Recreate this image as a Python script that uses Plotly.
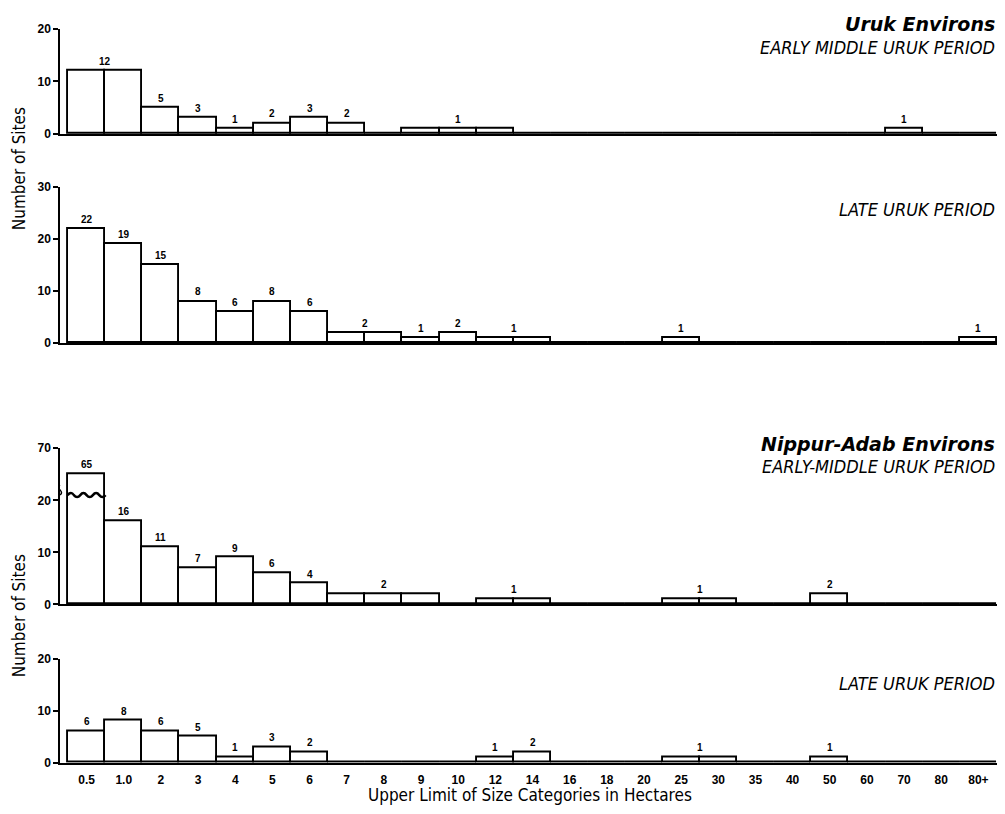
import plotly.graph_objects as go

# ---------------- data ----------------
categories = ["0.5", "1.0", "2", "3", "4", "5", "6", "7", "8", "9", "10", "12", "14",
              "16", "18", "20", "25", "30", "35", "40", "50", "60", "70", "80", "80+"]

uruk_early_middle = [12, 12, 5, 3, 1, 2, 3, 2, 0, 1, 1, 1, 0, 0, 0, 0, 0, 0, 0, 0, 0, 0, 1, 0, 0]
uruk_late = [22, 19, 15, 8, 6, 8, 6, 2, 2, 1, 2, 1, 1, 0, 0, 0, 1, 0, 0, 0, 0, 0, 0, 0, 1]
nippur_early_middle = [65, 16, 11, 7, 9, 6, 4, 2, 2, 2, 0, 1, 1, 0, 0, 0, 1, 1, 0, 0, 2, 0, 0, 0, 0]
nippur_late = [6, 8, 6, 5, 1, 3, 2, 0, 0, 0, 0, 1, 2, 0, 0, 0, 1, 1, 0, 0, 1, 0, 0, 0, 0]

panel_titles = ["Uruk Environs", None, "Nippur-Adab Environs", None]
panel_subtitles = ["EARLY MIDDLE URUK PERIOD", "LATE URUK PERIOD",
                   "EARLY-MIDDLE URUK PERIOD", "LATE URUK PERIOD"]
y_ticks = [[0, 10, 20], [0, 10, 20, 30], [0, 10, 20, 70], [0, 10, 20]]

# broken axis in panel 3: values from 20 up to 60 are cut out
BREAK_FROM = 20
BREAK_GAP = 40


def disp(v, broken):
    if broken and v > BREAK_FROM:
        return v - BREAK_GAP
    return v


# ---------------- layout geometry (page pixels) ----------------
PAGE_W, PAGE_H = 1005, 814
BODY_MARGIN = 8                      # browser default body margin
W, H = PAGE_W - 2 * BODY_MARGIN, PAGE_H - 2 * BODY_MARGIN
AX_LEFT, AX_RIGHT = 60, PAGE_W - BODY_MARGIN
BAR_PX = (AX_RIGHT - 68) / len(categories)
X_RANGE = [-0.5 - 8 / BAR_PX, len(categories) - 0.5]
# (top pixel, bottom pixel, top display value, title y, subtitle y)
panels_px = [(22, 129, 20, 17, 41), (183, 342, 30, None, 206),
             (449, 608, 30, 445, 468), (663, 769, 20, None, 688)]

series = [uruk_early_middle, uruk_late, nippur_early_middle, nippur_late]

FONT_TICK = "Liberation Sans, Arial, sans-serif"
FONT_COND = "Liberation Sans Narrow, DejaVu Sans Condensed, Arial Narrow, sans-serif"


def px(p):
    return min(1.0, max(0.0, (p - BODY_MARGIN) / W))


def py(p):
    return min(1.0, max(0.0, 1 - (p - BODY_MARGIN) / H))


fig = go.Figure()
annotations = []
shapes = []
xs = list(range(len(categories)))

for k, (vals, (ptop, pbot, ytop, title_y, sub_y)) in enumerate(zip(series, panels_px)):
    n = k + 1
    xa = "x" if n == 1 else f"x{n}"
    ya = "y" if n == 1 else f"y{n}"
    broken = (k == 2)
    yd = [disp(v, broken) for v in vals]
    fig.add_trace(go.Bar(
        x=xs, y=yd, xaxis=xa, yaxis=ya, width=1.0,
        marker=dict(color="white", line=dict(color="black", width=1.9)),
        showlegend=False, hoverinfo="skip",
    ))
    # labels: one per run of equal, non-zero adjacent bars
    i = 0
    while i < len(vals):
        if vals[i] == 0:
            i += 1
            continue
        j = i
        while j + 1 < len(vals) and vals[j + 1] == vals[i]:
            j += 1
        annotations.append(dict(
            x=(i + j) / 2, y=disp(vals[i], broken), xref=xa, yref=ya,
            text=str(vals[i]), showarrow=False, yanchor="bottom", yshift=2,
            font=dict(family=FONT_TICK, size=10, color="black", weight="bold"),
        ))
        i = j + 1

    tickvals = [disp(t, broken) for t in y_ticks[k]]
    xkey = "xaxis" if n == 1 else f"xaxis{n}"
    ykey = "yaxis" if n == 1 else f"yaxis{n}"
    fig.update_layout(**{
        xkey: dict(
            domain=[px(AX_LEFT), px(AX_RIGHT)], anchor=ya, range=X_RANGE,
            showgrid=False, zeroline=False, showline=True, linecolor="black",
            linewidth=2, ticks="",
            tickmode="array", tickvals=xs,
            ticktext=categories if k == 3 else [""] * len(xs),
            showticklabels=(k == 3), ticklabelstandoff=5,
            tickfont=dict(family=FONT_TICK, size=12, color="black", weight="bold"),
            fixedrange=True,
        ),
        ykey: dict(
            domain=[py(pbot), py(ptop)], anchor=xa, range=[0, ytop],
            showgrid=False, zeroline=False, showline=True, linecolor="black",
            linewidth=1.5, ticks="outside", ticklen=5, tickwidth=1.5,
            tickcolor="black", tickmode="array", tickvals=tickvals,
            ticktext=[str(t) for t in y_ticks[k]],
            tickfont=dict(family=FONT_TICK, size=12, color="black", weight="bold"),
            fixedrange=True,
        ),
    })

    if panel_titles[k]:
        annotations.append(dict(
            x=px(AX_RIGHT), y=py(title_y), xref="paper", yref="paper",
            text=f"<b><i>{panel_titles[k]}</i></b>", showarrow=False,
            xanchor="right", yanchor="middle",
            font=dict(family="DejaVu Sans, Liberation Sans, sans-serif", size=19, color="black"),
        ))
    annotations.append(dict(
        x=px(AX_RIGHT), y=py(sub_y), xref="paper", yref="paper",
        text=f"<i>{panel_subtitles[k]}</i>", showarrow=False,
        xanchor="right", yanchor="middle",
        font=dict(family=FONT_COND, size=18, color="black"),
    ))

# wavy break across the broken bar (panel 3) and break mark on its axis
broken_idx = max(range(len(nippur_early_middle)), key=lambda i: nippur_early_middle[i])
wave = "M-19,0 Q-15.5,4 -12.7,0 Q-9.5,-4 -6.3,0 Q-3.2,4 0,0 Q3.2,-4 6.3,0 Q9.5,4 12.7,0 Q15.8,-4 19,0"
shapes.append(dict(
    type="path", xref="x3", yref="y3", xsizemode="pixel", ysizemode="pixel",
    xanchor=broken_idx, yanchor=BREAK_FROM + 1, path=wave,
    line=dict(color="black", width=2.5),
))
shapes.append(dict(
    type="path", xref="x3", yref="y3", xsizemode="pixel", ysizemode="pixel",
    xanchor=X_RANGE[0], yanchor=BREAK_FROM + 2,
    path="M0,-5 Q3,-3 0,0 Q-3,3 0,5",
    line=dict(color="black", width=1.5),
))

# axis titles
for yc in (165, 620):
    annotations.append(dict(
        x=px(19), y=py(yc), xref="paper", yref="paper", text="Number of Sites",
        textangle=-90, showarrow=False, xanchor="center", yanchor="middle",
        font=dict(family=FONT_COND, size=17, color="black"),
    ))
annotations.append(dict(
    x=px(530), y=py(802), xref="paper", yref="paper",
    text="Upper Limit of Size Categories in Hectares", showarrow=False,
    xanchor="center", yanchor="middle",
    font=dict(family=FONT_COND, size=17, color="black"),
))

fig.update_layout(
    width=W, height=H, autosize=False,
    margin=dict(l=0, r=0, t=0, b=0),
    paper_bgcolor="white", plot_bgcolor="white",
    bargap=0, annotations=annotations, shapes=shapes,
)

fig.write_html("out.html")
